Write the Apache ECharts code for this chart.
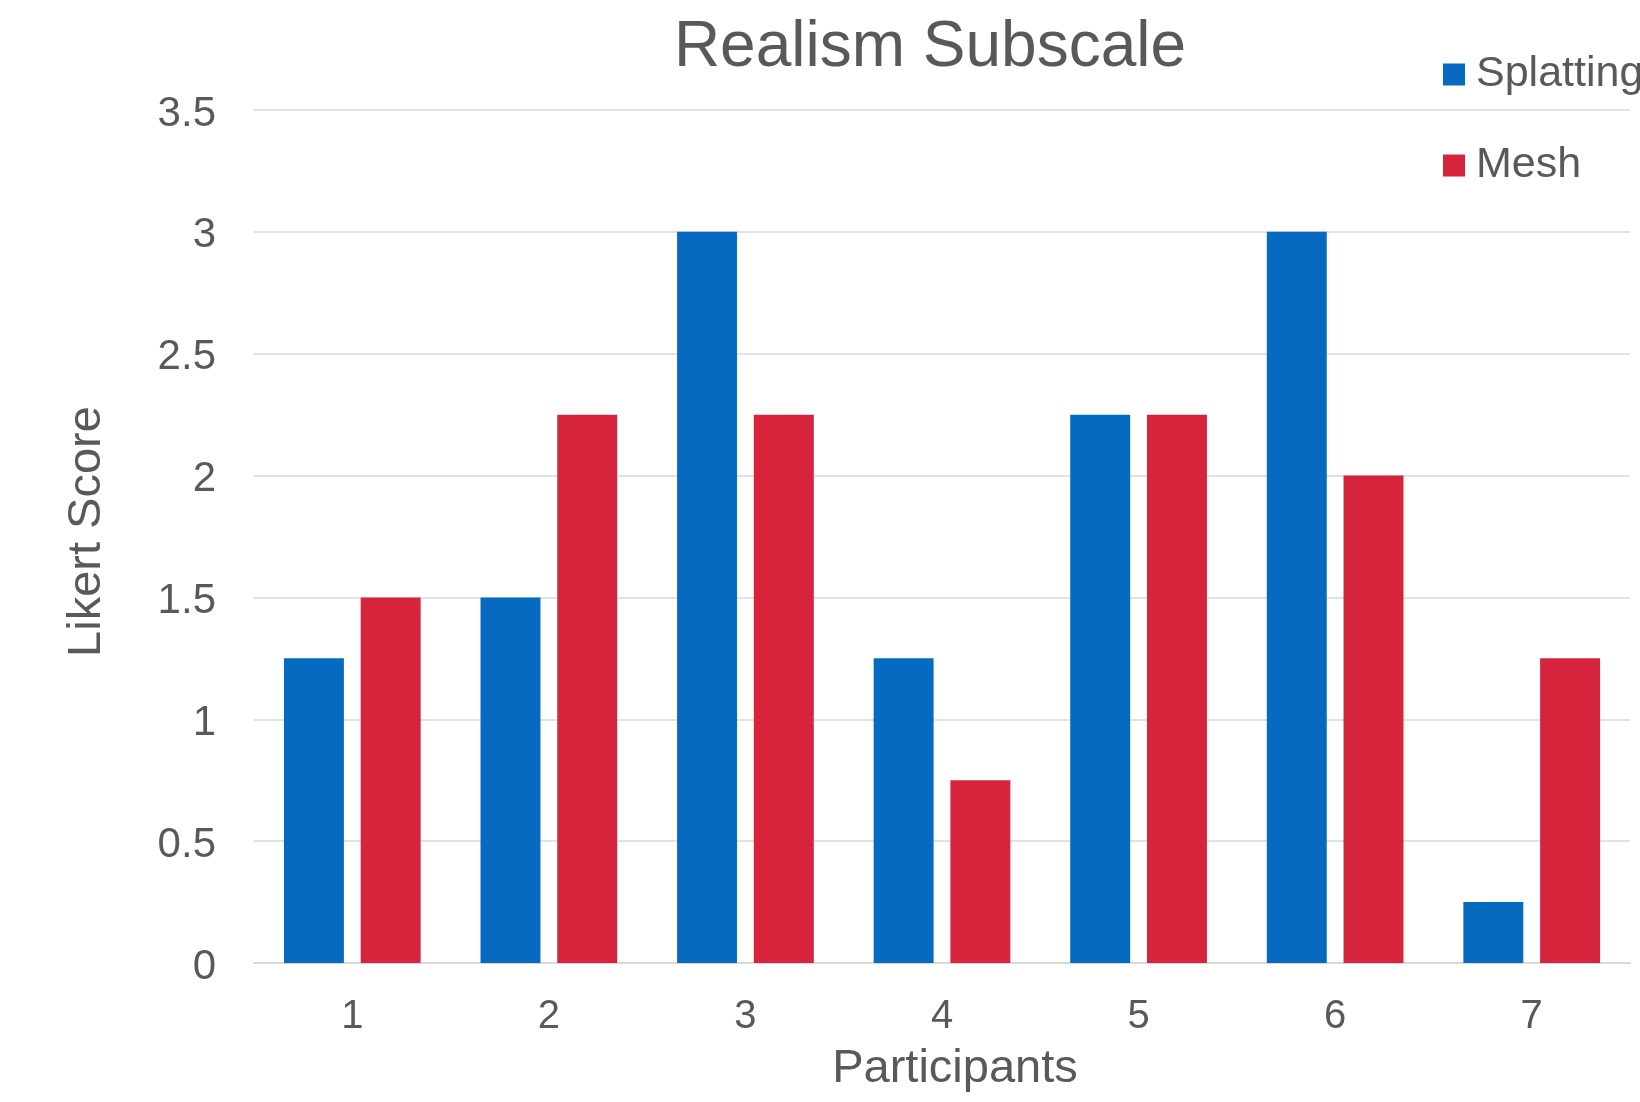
<!DOCTYPE html>
<html>
<head>
<meta charset="utf-8">
<script src="https://cdn.jsdelivr.net/npm/echarts@6/dist/echarts.min.js"></script>
<style>
html,body{margin:0;padding:0;background:#fff;}
#chart{width:1640px;height:1102px;}
</style>
</head>
<body>
<div id="chart"></div>
<script>
const categories = ['1','2','3','4','5','6','7'];
const splatting = [1.25, 1.5, 3, 1.25, 2.25, 3, 0.25];
const mesh = [1.5, 2.25, 2.25, 0.75, 2.25, 2, 1.25];
const titleText = 'Realism Subscale';
const xName = 'Participants';
const yName = 'Likert Score';

const font = '"Liberation Sans", Arial, sans-serif';
const textColor = '#595959';
const chart = echarts.init(document.getElementById('chart'), null, {renderer: 'canvas'});
chart.setOption({
  backgroundColor: '#ffffff',
  animation: false,
  title: {
    text: titleText,
    left: 925,
    top: 11,
    textAlign: 'center',
    textStyle: {fontFamily: font, fontSize: 64, fontWeight: 'normal', color: textColor}
  },
  legend: {
    orient: 'vertical',
    left: 1438,
    top: 47,
    itemWidth: 22,
    itemHeight: 22,
    itemGap: 46,
    icon: 'rect',
    textStyle: {fontFamily: font, fontSize: 43, lineHeight: 45, color: textColor, padding: [0,0,0,6]},
    data: ['Splatting', 'Mesh']
  },
  grid: {left: 254, right: 10, top: 110, bottom: 139, containLabel: false},
  xAxis: {
    type: 'category',
    data: categories,
    name: xName,
    nameLocation: 'middle',
    nameGap: 83,
    nameTextStyle: {fontFamily: font, fontSize: 47, color: textColor, padding: [0,0,0,26]},
    axisLine: {show: true, lineStyle: {color: '#d9d9d9', width: 2}},
    axisTick: {show: false},
    axisLabel: {fontFamily: font, fontSize: 40, color: textColor, margin: 34}
  },
  yAxis: {
    type: 'value',
    min: 0,
    max: 3.5,
    interval: 0.5,
    name: yName,
    nameLocation: 'middle',
    nameRotate: 90,
    nameGap: 143,
    nameTextStyle: {fontFamily: font, fontSize: 47, color: textColor, padding: [0,0,0,10]},
    axisLine: {show: false},
    axisTick: {show: false},
    axisLabel: {
      margin: 38,
      formatter: function (v) { return '{a|' + v + '}'; },
      rich: {a: {fontFamily: font, fontSize: 42, color: textColor, padding: [8,0,0,0]}}
    },
    splitLine: {lineStyle: {color: '#d9d9d9', width: 1.5}}
  },
  series: [
    {name: 'Splatting', type: 'bar', data: splatting, barWidth: '30.5%', barGap: '28%', itemStyle: {color: '#066AC0'}},
    {name: 'Mesh', type: 'bar', data: mesh, barWidth: '30.5%', barGap: '28%', itemStyle: {color: '#D6243C'}}
  ]
});
</script>
</body>
</html>
